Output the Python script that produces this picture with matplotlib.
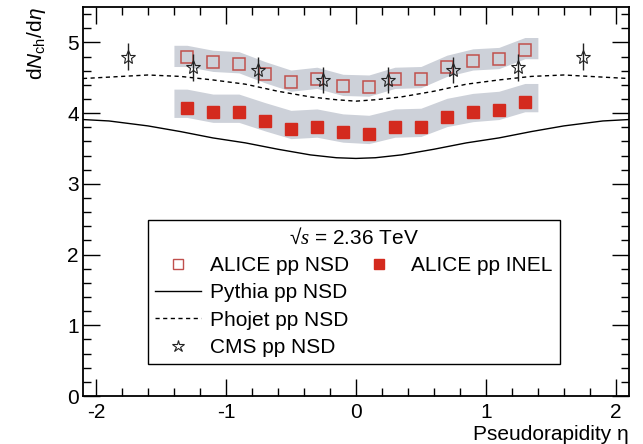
import matplotlib
matplotlib.use('Agg')
import matplotlib.pyplot as plt
import numpy as np
from matplotlib.lines import Line2D

plt.rcParams['font.family'] = ['Liberation Sans', 'DejaVu Sans']
plt.rcParams['mathtext.fontset'] = 'custom'
plt.rcParams['mathtext.rm'] = 'Liberation Sans'
plt.rcParams['mathtext.it'] = 'Liberation Sans:italic'
plt.rcParams['mathtext.sf'] = 'Liberation Serif:italic'

# ALICE points (bins of 0.2 in eta)
eta_alice = [-1.3, -1.1, -0.9, -0.7, -0.5, -0.3, -0.1, 0.1, 0.3, 0.5, 0.7, 0.9, 1.1, 1.3]
nsd = [4.79, 4.72, 4.70, 4.56, 4.44, 4.48, 4.38, 4.37, 4.48, 4.49, 4.65, 4.74, 4.76, 4.90]
inel = [4.08, 4.01, 4.01, 3.89, 3.78, 3.80, 3.73, 3.71, 3.80, 3.81, 3.95, 4.02, 4.05, 4.16]
nsd_sys_up, nsd_sys_dn = 0.17, 0.13
inel_sys_up, inel_sys_dn = 0.26, 0.14

# CMS
eta_cms = [-1.75, -1.25, -0.75, -0.25, 0.25, 0.75, 1.25, 1.75]
cms = [4.80, 4.65, 4.61, 4.47, 4.47, 4.61, 4.65, 4.80]
cms_err = 0.19

# MC curves
eta_mc = [-2.1, -1.9, -1.6, -1.35, -1.1, -0.85, -0.6, -0.35, -0.15, 0.0,
          0.15, 0.35, 0.6, 0.85, 1.1, 1.35, 1.6, 1.9, 2.1]
pythia = [3.91, 3.89, 3.82, 3.74, 3.65, 3.58, 3.49, 3.41, 3.37, 3.36,
          3.37, 3.41, 3.49, 3.58, 3.65, 3.74, 3.82, 3.89, 3.91]
phojet = [4.49, 4.51, 4.54, 4.52, 4.47, 4.41, 4.31, 4.23, 4.19, 4.17,
          4.19, 4.23, 4.31, 4.41, 4.47, 4.52, 4.54, 4.51, 4.49]

band_col = '#cdd1d9'
red = '#d42a1e'
open_red = '#c0504d'

fig = plt.figure(figsize=(6.43, 4.44), dpi=100)
ax = fig.add_axes([0.129, 0.108, 0.849, 0.876])

# systematic bands, extended to the outer bin edges
xe = np.array(eta_alice)
xb = np.concatenate([[xe[0] - 0.1], xe, [xe[-1] + 0.1]])
nb = np.array(nsd)
nb = np.concatenate([[nb[0]], nb, [nb[-1]]])
ib = np.array(inel)
ib = np.concatenate([[ib[0]], ib, [ib[-1]]])
ax.fill_between(xb, nb - nsd_sys_dn, nb + nsd_sys_up, color=band_col, lw=0, zorder=1)
ax.fill_between(xb, ib - inel_sys_dn, ib + inel_sys_up, color=band_col, lw=0, zorder=1)

ax.plot(eta_mc, pythia, color='black', lw=1.0, zorder=2)
ax.plot(eta_mc, phojet, color='black', lw=1.0, ls=(0, (3, 2.5)), zorder=2)

ax.plot(eta_alice, nsd, 's', ms=9, mfc='none', mec=open_red, mew=1.1, zorder=3)
ax.plot(eta_alice, inel, 's', ms=9, mfc=red, mec=red, zorder=3)
ax.errorbar(eta_cms, cms, yerr=cms_err, fmt='*', ms=10, mfc='none', mec='#222222',
            mew=0.8, ecolor='#222222', elinewidth=1.0, capsize=0, zorder=4)

ax.set_xlim(-2.1, 2.1)
ax.set_ylim(0, 5.5)
ax.set_xticks([-2, -1, 0, 1, 2])
ax.set_xticklabels(['-2', '-1', '0', '1', '2'])
ax.set_xticks(np.arange(-2.0, 2.01, 0.2), minor=True)
ax.set_yticks([0, 1, 2, 3, 4, 5])
ax.set_yticks(np.arange(0, 5.51, 0.2), minor=True)
ax.tick_params(which='both', direction='in', top=True, right=True, labelsize=15, width=1.0)
ax.tick_params(which='major', length=12)
ax.tick_params(which='minor', length=6)
ax.tick_params(axis='x', pad=5)
ax.tick_params(axis='y', pad=3)
for s in ax.spines.values():
    s.set_linewidth(1.3)

ax.set_xlabel('Pseudorapidity η', fontsize=15, loc='right', labelpad=2)
ax.set_ylabel(r'd$N_{\rm ch}$/d$\eta$', fontsize=15, loc='top', labelpad=14)

blank = Line2D([], [], ls='none')
handles = [
    Line2D([], [], ls='none', marker='s', ms=7, mfc='none', mec=open_red, mew=1.0),
    Line2D([], [], color='black', lw=1.0),
    Line2D([], [], color='black', lw=1.0, ls=(0, (3, 2.5))),
    Line2D([], [], ls='none', marker='*', ms=9, mfc='none', mec='#222222', mew=0.8),
    Line2D([], [], ls='none', marker='s', ms=7, mfc=red, mec=red),
    blank, blank, blank,
]
labels = ['ALICE pp NSD', 'Pythia pp NSD', 'Phojet pp NSD', 'CMS pp NSD',
          'ALICE pp INEL', '', '', '']
leg = ax.legend(handles, labels, ncol=2, loc='lower left', bbox_to_anchor=(0.119, 0.082),
                fontsize=15, title=r'√$\mathsf{s}$ = 2.36 TeV', title_fontsize=15,
                frameon=True, fancybox=False, edgecolor='black', framealpha=1,
                handlelength=2.2, handletextpad=0.45, labelspacing=0.4,
                columnspacing=0.3, borderpad=0.35, borderaxespad=0)
leg.get_frame().set_linewidth(1.0)

fig.savefig('out.png', dpi=100)
